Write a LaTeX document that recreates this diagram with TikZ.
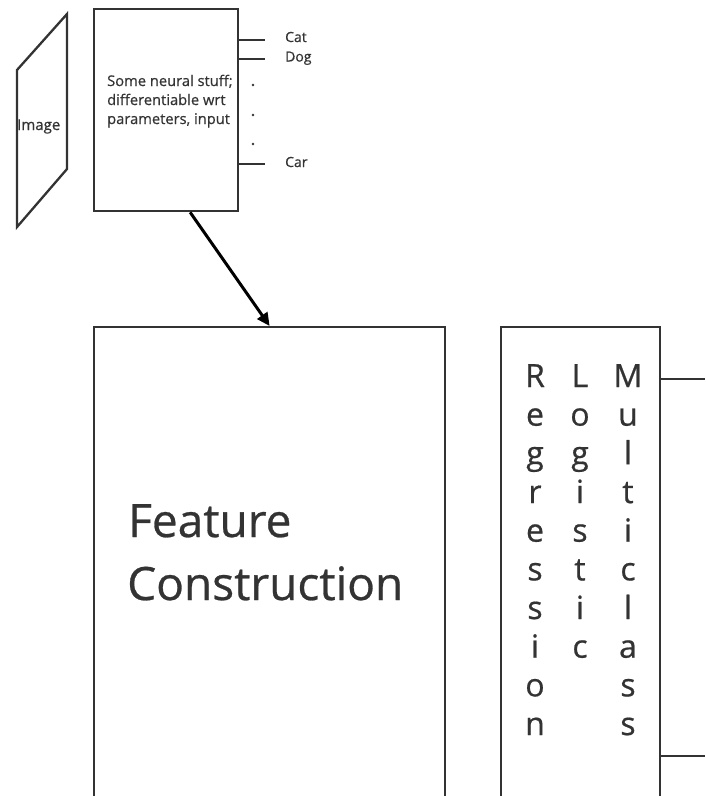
\documentclass[tikz,border=0pt]{standalone}
\usepackage{fontspec}
\setmainfont{Open Sans}[FakeBold=0.6]
\usetikzlibrary{arrows.meta}
\definecolor{ink}{HTML}{333333}
\begin{document}
\begin{tikzpicture}[x=1pt,y=-1pt,
  box/.style={draw=ink, line width=2.3pt, inner sep=0pt, anchor=north west},
  thinbox/.style={draw=ink, line width=2pt, inner sep=0pt, anchor=north west},
  lbl/.style={text=ink, inner sep=0pt, anchor=base west, font=\fontsize{14.7}{19}\selectfont},
  olbl/.style={text=ink, inner sep=0pt, anchor=base west, font=\fontsize{14}{19}\selectfont},
  vlet/.style={text=ink, inner sep=0pt, anchor=base, font=\fontsize{32}{40}\selectfont},
  big/.style={text=ink, inner sep=0pt, anchor=base west, font=\fontsize{46}{63}\selectfont},
  outline/.style={draw=ink, line width=2pt},
  thinline/.style={draw=ink, line width=1.5pt},
  dotmark/.style={circle, fill=ink, inner sep=0pt, minimum size=2.6pt},
  arr/.style={draw=black, line width=3pt, -{Triangle[length=13pt,width=12pt]}}]
\useasboundingbox (0,0) rectangle (705,796);
\clip (0,0) rectangle (705,796);

% image parallelogram
\draw[draw=ink, line width=2.3pt, line join=miter] (17,70) -- (67,14) -- (67,169) -- (17,227) -- cycle;
\node[text=ink, inner sep=0pt, anchor=base west, font=\fontsize{15}{19}\selectfont] (img) at (17,130) {Image};

% neural box
\node[box, minimum width=144pt, minimum height=202pt] (nn) at (93,8) {};
\node[lbl] (t1) at (107,86) {Some neural stuff;};
\node[lbl] (t2) at (107,105) {differentiable wrt};
\node[lbl] (t3) at (107,124) {parameters, input};

% outputs
\coordinate (ocat) at (265,40);
\coordinate (odog) at (265,59);
\coordinate (ocar) at (265,164);
\draw[outline] (nn.east |- ocat) -- (ocat);
\draw[outline] (nn.east |- odog) -- (odog);
\draw[outline] (nn.east |- ocar) -- (ocar);
\node[olbl] (cat) at (285,42) {Cat};
\node[olbl] (dog) at (285,61.5) {Dog};
\node[olbl] (car) at (285,167) {Car};
\node[dotmark] (d1) at (253,85) {};
\node[dotmark] (d2) at (253,115) {};
\node[dotmark] (d3) at (253,144) {};

% feature construction box
\node[box, minimum width=351pt, minimum height=500pt] (fc) at (93,326) {};
\node[big] (feat) at (128,537) {Feature};
\node[big] (cons) at (127,600) {Construction};

% arrow
\draw[arr] ([xshift=24pt]nn.south) -- (fc.north);

% classifier box
\node[thinbox, minimum width=159pt, minimum height=500pt] (rb) at (500,326) {};
\coordinate (r1) at (705,379);
\coordinate (r2) at (705,756);
\draw[thinline] (rb.east |- r1) -- (r1);
\draw[thinline] (rb.east |- r2) -- (r2);

\foreach \ch [count=\i from 0] in {R,e,g,r,e,s,s,i,o,n}
  \node[vlet] (reg\i) at (535,387+38.67*\i) {\ch};
\foreach \ch [count=\i from 0] in {L,o,g,i,s,t,i,c}
  \node[vlet] (log\i) at (580,387+38.67*\i) {\ch};
\foreach \ch [count=\i from 0] in {M,u,l,t,i,c,l,a,s,s}
  \node[vlet] (mul\i) at (628,387+38.67*\i) {\ch};
\end{tikzpicture}
\end{document}
